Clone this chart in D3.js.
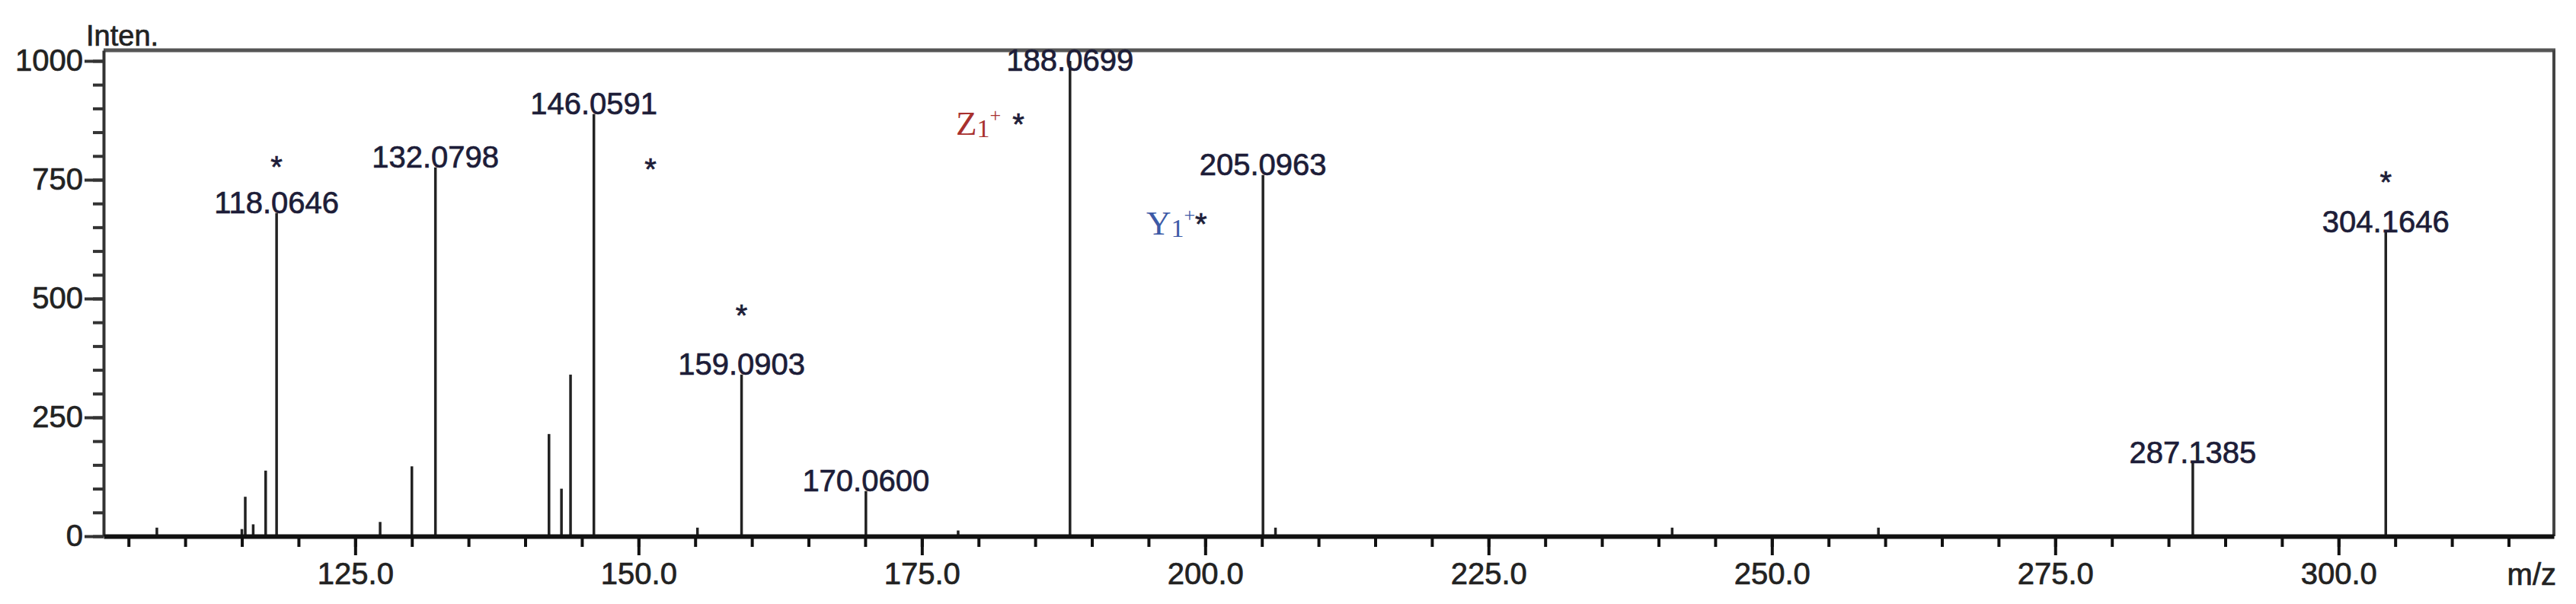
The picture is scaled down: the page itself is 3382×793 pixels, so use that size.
<!DOCTYPE html>
<html><head><meta charset="utf-8">
<script src="https://cdn.jsdelivr.net/npm/d3@7/dist/d3.min.js"></script>
<style>html,body{margin:0;padding:0;background:#fff;} svg{display:block}</style>
</head><body>
<svg id="chart" width="3382" height="793"></svg>
<script>
// ---- data ----
const labeledMz  = [118.0646, 132.0798, 146.0591, 159.0903, 170.0600, 188.0699, 205.0963, 287.1385, 304.1646];
const labeledInt = [680, 776, 888, 340, 95, 1000, 760, 154, 640];
const minorMz  = [107.5, 115.0, 115.3, 116.0, 117.1, 127.2, 130.0, 142.1, 143.2, 144.0, 155.2, 178.2, 206.2, 241.2, 259.4];
const minorInt = [18, 15, 83, 25, 138, 30, 147, 215, 100, 340, 18, 12, 18, 18, 18];
const starMz  = [118.0646, 151.05, 159.0903, 304.1646];
const starInt = [755, 750, 442, 723];
const ionNames  = ["Z", "Y"];
const ionSub    = ["1", "1"];
const ionCharge = ["+", "+"];
const ionMz  = [178.0, 194.8];
const ionInt = [845, 635];
const xMajorTicks = [125, 150, 175, 200, 225, 250, 275, 300];
const xMinorTicks = d3.range(105, 316, 5);
const yMajorTicks = [0, 250, 500, 750, 1000];
const yMinorTicks = d3.range(0, 1001, 50);
const xDomain = [102.8, 319.0];
const yDomain = [0, 1022.4];

// ---- styles ----
const FONT = "'Liberation Sans', Arial, sans-serif";
const SERIF = "'Liberation Serif', 'Times New Roman', serif";
const ionColors = ["#a8302e", "#3d5aa6"];
const ionStarGap = [15, 0];
const labelColor = "#1d1d38";

const svg = d3.select("#chart");
const L = 136, R = 3353, T = 66, B = 704;
const x = d3.scaleLinear().domain(xDomain).range([L, R]);
const y = d3.scaleLinear().domain(yDomain).range([B, T]);

function heavy(sel, color) {
  return sel.attr("stroke", color).attr("stroke-width", 0.7).attr("paint-order", "stroke");
}

// frame top & right
svg.append("line").attr("x1", L).attr("x2", R + 2).attr("y1", T).attr("y2", T)
  .attr("stroke", "#555").attr("stroke-width", 5);
svg.append("line").attr("x1", R).attr("x2", R).attr("y1", T).attr("y2", B)
  .attr("stroke", "#444").attr("stroke-width", 4);

// peaks
const peaks = labeledMz.map((m, i) => ({m, v: labeledInt[i]}))
  .concat(minorMz.map((m, i) => ({m, v: minorInt[i]})));
svg.append("g").selectAll("line").data(peaks).join("line")
  .attr("x1", d => x(d.m)).attr("x2", d => x(d.m))
  .attr("y1", B).attr("y2", d => y(d.v))
  .attr("stroke", "#222").attr("stroke-width", 3.5);

// y axis
const yMinor = svg.append("g").attr("transform", `translate(${L},0)`)
  .call(d3.axisLeft(y).tickValues(yMinorTicks).tickSize(14).tickSizeOuter(0).tickFormat(""));
yMinor.select(".domain").remove();
yMinor.selectAll(".tick line").attr("stroke", "#333").attr("stroke-width", 4);
const yMajor = svg.append("g").attr("transform", `translate(${L},0)`)
  .call(d3.axisLeft(y).tickValues(yMajorTicks).tickSize(25).tickSizeOuter(0).tickPadding(2).tickFormat(d3.format("d")));
yMajor.select(".domain").attr("stroke", "#333").attr("stroke-width", 4);
yMajor.selectAll(".tick line").attr("stroke", "#333").attr("stroke-width", 4);
heavy(yMajor.selectAll(".tick text").attr("font-family", FONT).attr("font-size", 40).attr("fill", "#222"), "#222");

// x axis
const xMinor = svg.append("g").attr("transform", `translate(0,${B})`)
  .call(d3.axisBottom(x).tickValues(xMinorTicks).tickSize(14).tickSizeOuter(0).tickFormat(""));
xMinor.select(".domain").remove();
xMinor.selectAll(".tick line").attr("stroke", "#111").attr("stroke-width", 4);
const xMajor = svg.append("g").attr("transform", `translate(0,${B})`)
  .call(d3.axisBottom(x).tickValues(xMajorTicks).tickSize(25).tickSizeOuter(0).tickPadding(10).tickFormat(d3.format(".1f")));
xMajor.select(".domain").attr("stroke", "#111").attr("stroke-width", 6);
xMajor.selectAll(".tick line").attr("stroke", "#111").attr("stroke-width", 4);
heavy(xMajor.selectAll(".tick text").attr("font-family", FONT).attr("font-size", 40).attr("fill", "#222"), "#222");

// axis titles
heavy(svg.append("text").attr("x", 113).attr("y", 60).text("Inten.")
  .attr("font-family", FONT).attr("font-size", 38).attr("fill", "#222"), "#222");
heavy(svg.append("text").attr("x", 3356).attr("y", 768).attr("text-anchor", "end").text("m/z")
  .attr("font-family", FONT).attr("font-size", 40).attr("fill", "#222"), "#222");

// peak labels
heavy(svg.append("g").selectAll("text").data(labeledMz.map((m, i) => ({m, v: labeledInt[i]}))).join("text")
  .attr("x", d => x(d.m)).attr("y", d => Math.max(y(d.v), T + 27))
  .attr("text-anchor", "middle").attr("font-family", FONT).attr("font-size", 40)
  .attr("fill", labelColor).text(d => d.m.toFixed(4)), labelColor);

// stars
heavy(svg.append("g").selectAll("text").data(starMz.map((m, i) => ({m, v: starInt[i]}))).join("text")
  .attr("x", d => x(d.m)).attr("y", d => y(d.v))
  .attr("text-anchor", "middle").attr("font-family", FONT).attr("font-size", 40)
  .attr("fill", labelColor).text("*"), labelColor);

// ion annotations
ionNames.forEach((n, i) => {
  const t = svg.append("text").attr("x", x(ionMz[i])).attr("y", y(ionInt[i]))
    .attr("font-family", SERIF).attr("fill", ionColors[i]);
  t.append("tspan").attr("font-size", 45).text(n);
  t.append("tspan").attr("font-size", 34).attr("dy", 3).text(ionSub[i]);
  t.append("tspan").attr("font-size", 26).attr("dy", -20).text(ionCharge[i]);
  heavy(t.append("tspan").attr("font-size", 40).attr("font-family", FONT).attr("fill", labelColor)
    .attr("dy", 17).attr("dx", ionStarGap[i]).text("*"), labelColor);
});
</script>
</body></html>
